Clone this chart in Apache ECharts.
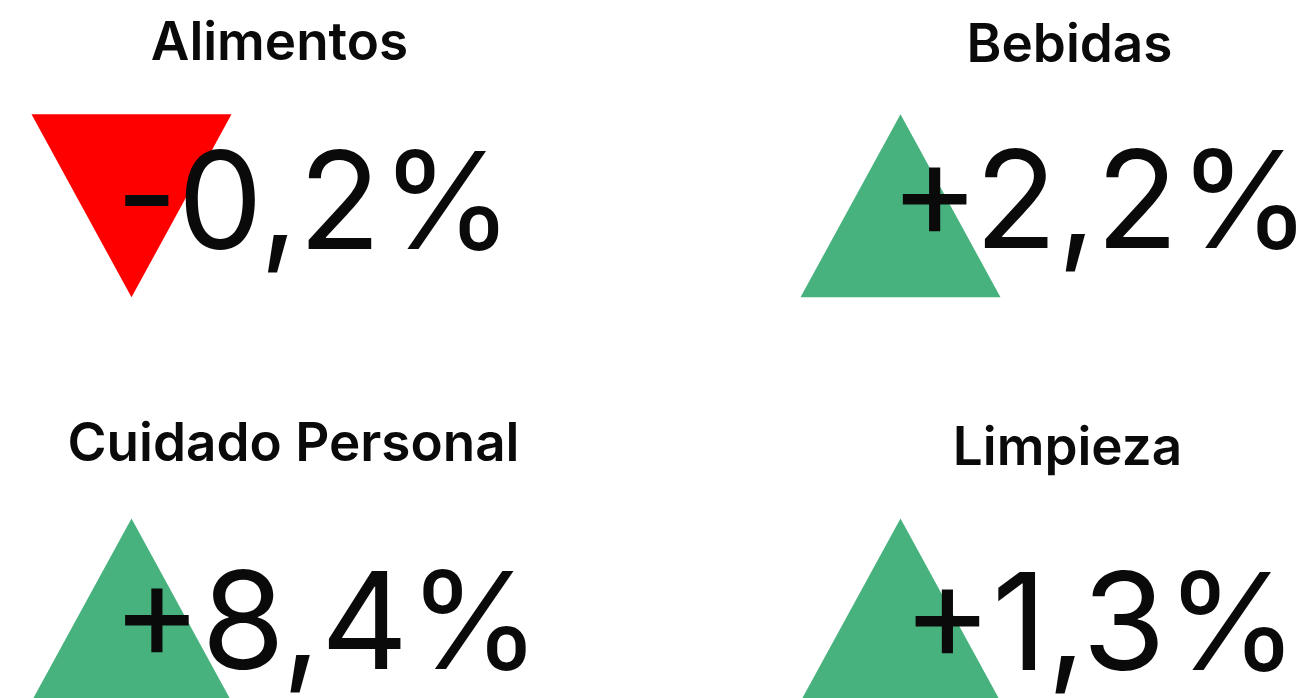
<!DOCTYPE html>
<html>
<head>
<meta charset="utf-8">
<script src="https://cdn.jsdelivr.net/npm/echarts@6/dist/echarts.min.js"></script>
<style>
  html, body { margin: 0; padding: 0; background: #fff; }
  #grafico { width: 1300px; height: 698px; }
</style>
</head>
<body>
<div id="grafico"></div>
<script>
// datos
const categorias = ['Alimentos', 'Bebidas', 'Cuidado Personal', 'Limpieza']
const variaciones = [-0.2, 2.2, 8.4, 1.3]
const columnas = [0, 1, 0, 1]
const filas = [0, 0, 1, 1]

// ajuste fino de cada panel: [dx titulo, dy titulo, dx cifra, dy cifra]
const ajustes = [
  [148, -162, 183, 3],
  [169, -160, 200, 2],
  [162, -165, 195, 18],
  [167, -161, 200, 19]
]

const verde = '#48b27e'
const rojo = '#ff0000'

function formatear(v) {
  const signo = v > 0 ? '+' : (v < 0 ? '-' : '')
  return signo + Math.abs(v).toFixed(1).replace('.', ',') + '%'
}

const chart = echarts.init(document.getElementById('grafico'))
chart.setOption({
  animation: false,
  grid: { left: 131.5, right: 399.5, top: 205.75, bottom: 88 },
  xAxis: { type: 'value', min: 0, max: 1, show: false },
  yAxis: { type: 'value', min: 0, max: 1, inverse: true, show: false },
  series: [
    {
      // triangulos y cifras
      type: 'scatter',
      silent: true,
      symbol: 'triangle',
      symbolSize: [200, 183],
      itemStyle: { opacity: 1 },
      data: variaciones.map((v, i) => ({
        value: [columnas[i], filas[i]],
        name: categorias[i],
        symbolRotate: v < 0 ? 180 : 0,
        itemStyle: { color: v < 0 ? rojo : verde, opacity: 1 },
        label: { offset: [ajustes[i][2], ajustes[i][3]] }
      })),
      label: {
        show: true,
        position: 'inside',
        align: 'center',
        verticalAlign: 'middle',
        formatter: (p) => formatear(variaciones[p.dataIndex]),
        fontFamily: 'Inter',
        fontSize: 135,
        fontWeight: 400,
        color: '#0a0a0a'
      }
    },
    {
      // titulos
      type: 'scatter',
      silent: true,
      symbolSize: 0,
      itemStyle: { opacity: 1 },
      data: categorias.map((c, i) => ({
        value: [columnas[i], filas[i]],
        name: c,
        label: { offset: [ajustes[i][0], ajustes[i][1]] }
      })),
      label: {
        show: true,
        position: 'inside',
        align: 'center',
        verticalAlign: 'middle',
        formatter: '{b}',
        fontFamily: 'Inter',
        fontSize: 53,
        fontWeight: 600,
        color: '#0a0a0a'
      }
    }
  ]
})
</script>
</body>
</html>
